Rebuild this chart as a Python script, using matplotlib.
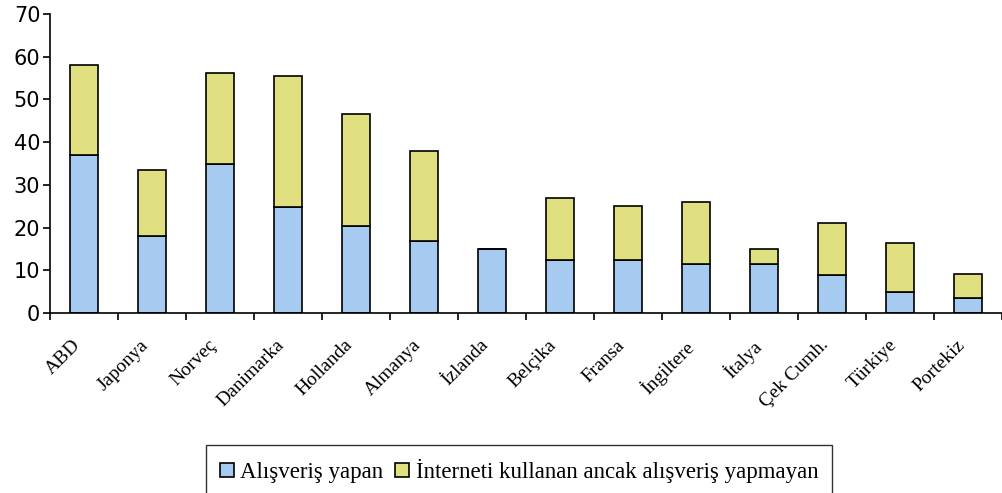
import matplotlib
matplotlib.use("Agg")
import matplotlib.pyplot as plt
import matplotlib.transforms as mtransforms
import numpy as np

countries = ["ABD", "Japonya", "Norveç", "Danimarka", "Hollanda", "Almanya", "İzlanda",
             "Belçika", "Fransa", "İngiltere", "İtalya", "Çek Cumh.", "Türkiye", "Portekiz"]
alisveris_yapan = [37, 18, 35, 24.8, 20.4, 16.9, 15, 12.4, 12.4, 11.4, 11.4, 8.9, 5, 3.4]
toplam = [58, 33.5, 56.2, 55.5, 46.6, 38, 15, 27, 25, 26, 15, 21, 16.4, 9.1]
yapmayan = [t - a for t, a in zip(toplam, alisveris_yapan)]

blue = "#A6CAF0"
yellow = "#E0E080"

fig = plt.figure(figsize=(10.02, 4.93), dpi=100)
ax = fig.add_axes([50 / 1002, 1 - 313 / 493, 1 - 50 / 1002, 299 / 493])

x = np.arange(len(countries))
w = 0.41
b1 = ax.bar(x, alisveris_yapan, w, color=blue, edgecolor="black", linewidth=1.2,
            label="Alışveriş yapan")
b2 = ax.bar(x, yapmayan, w, bottom=alisveris_yapan, color=yellow, edgecolor="black",
            linewidth=1.2, label="İnterneti kullanan ancak alışveriş yapmayan")

ax.set_xlim(-0.5, len(countries) - 0.5)
ax.set_ylim(0, 70)
ax.set_yticks(range(0, 71, 10))
ax.spines["top"].set_visible(False)
ax.spines["right"].set_visible(False)
ax.spines["left"].set_linewidth(1.2)
ax.spines["bottom"].set_linewidth(1.2)

ax.set_xticks(x)
ax.set_xticklabels(countries, rotation=45, ha="right", rotation_mode="anchor",
                   family="Liberation Serif", fontsize=14)
ax.tick_params(axis="x", which="major", length=0, pad=17)
shift = mtransforms.ScaledTranslation(-0.12, 0, fig.dpi_scale_trans)
for lbl in ax.get_xticklabels():
    lbl.set_transform(lbl.get_transform() + shift)
ax.set_xticks(np.arange(-0.5, len(countries), 1), minor=True)
ax.tick_params(axis="x", which="minor", length=5, width=1.2, direction="out")
ax.tick_params(axis="y", length=5, width=1.2, labelsize=15, pad=2)

fig.legend(handles=[b1, b2], loc="upper center", bbox_to_anchor=(0.518, 0.097),
           ncol=2, frameon=True, fancybox=False, edgecolor="black",
           prop={"family": "Liberation Serif", "size": 16.5},
           handlelength=0.6, handleheight=0.6, handletextpad=0.3, columnspacing=0.5,
           borderpad=0.6, borderaxespad=0)

fig.savefig("out.png", dpi=100)
